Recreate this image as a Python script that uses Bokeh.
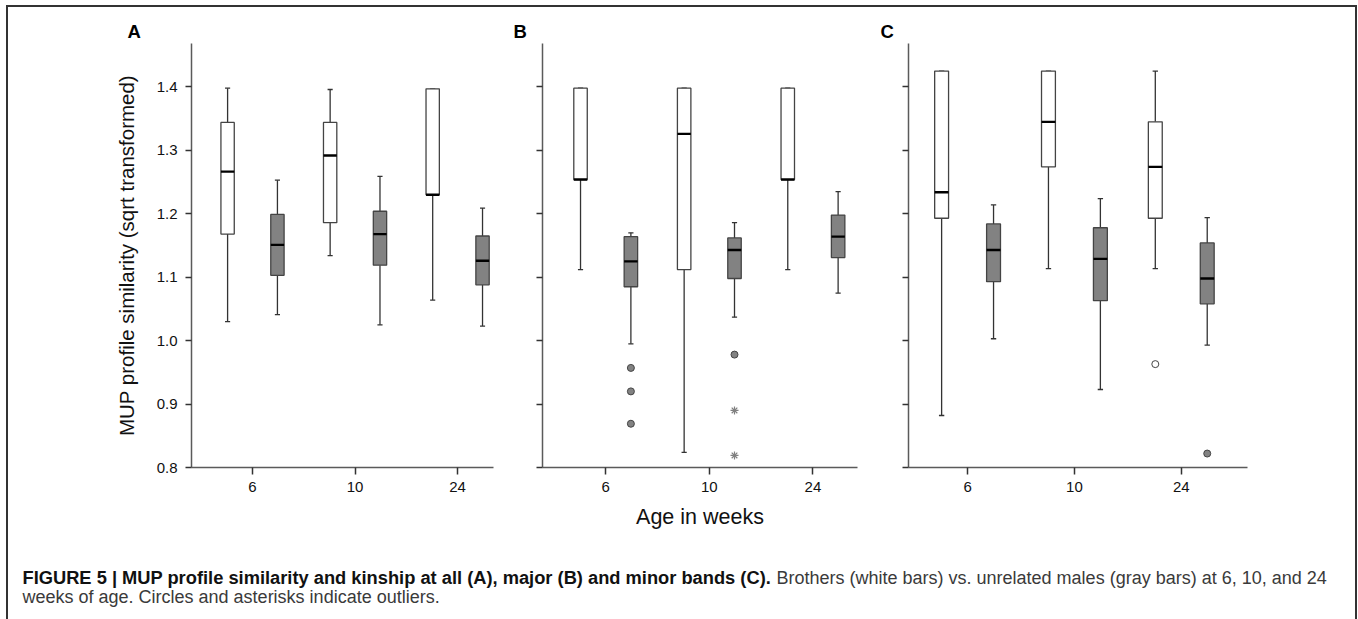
from bokeh.plotting import figure
from bokeh.models import Range1d, FixedTicker, ColumnDataSource
from bokeh.layouts import row, column
from bokeh.embed import file_html
from bokeh.resources import INLINE
from bokeh.core.properties import value

# ---------------- data ----------------
weeks = ["6", "10", "24"]
y_ticks = [0.8, 0.9, 1.0, 1.1, 1.2, 1.3, 1.4]
y_tick_labels = ["0.8", "0.9", "1.0", "1.1", "1.2", "1.3", "1.4"]

# Panel A - all bands
A_brothers_low = [1.030, 1.134, 1.064]
A_brothers_q1 = [1.168, 1.186, 1.230]
A_brothers_median = [1.2665, 1.292, 1.230]
A_brothers_q3 = [1.344, 1.344, 1.397]
A_brothers_high = [1.398, 1.396, 1.397]
A_unrelated_low = [1.041, 1.025, 1.023]
A_unrelated_q1 = [1.103, 1.119, 1.088]
A_unrelated_median = [1.151, 1.168, 1.126]
A_unrelated_q3 = [1.199, 1.204, 1.165]
A_unrelated_high = [1.253, 1.259, 1.209]

# Panel B - major bands
B_brothers_low = [1.112, 0.824, 1.112]
B_brothers_q1 = [1.254, 1.112, 1.254]
B_brothers_median = [1.254, 1.326, 1.254]
B_brothers_q3 = [1.398, 1.398, 1.398]
B_brothers_high = [1.398, 1.398, 1.398]
B_unrelated_low = [0.995, 1.037, 1.075]
B_unrelated_q1 = [1.085, 1.098, 1.131]
B_unrelated_median = [1.125, 1.143, 1.164]
B_unrelated_q3 = [1.164, 1.162, 1.198]
B_unrelated_high = [1.170, 1.186, 1.235]
B_unrelated_circle_week = ["6", "6", "6", "10"]
B_unrelated_circle_value = [0.957, 0.920, 0.869, 0.978]
B_unrelated_star_week = ["10", "10"]
B_unrelated_star_value = [0.890, 0.819]

# Panel C - minor bands
C_brothers_low = [0.882, 1.1135, 1.1135]
C_brothers_q1 = [1.193, 1.274, 1.193]
C_brothers_median = [1.234, 1.345, 1.274]
C_brothers_q3 = [1.425, 1.425, 1.345]
C_brothers_high = [1.425, 1.425, 1.425]
C_unrelated_low = [1.003, 0.923, 0.993]
C_unrelated_q1 = [1.093, 1.063, 1.058]
C_unrelated_median = [1.143, 1.129, 1.098]
C_unrelated_q3 = [1.184, 1.178, 1.154]
C_unrelated_high = [1.214, 1.224, 1.194]
C_brothers_circle_week = ["24"]
C_brothers_circle_value = [0.963]
C_unrelated_circle_week = ["24"]
C_unrelated_circle_value = [0.822]

# ---------------- styling ----------------
FONT = "Liberation Sans"
GRAY = "#828282"
EDGE = "#444444"
AXIS = "#5a5a5a"
OFFSET = 0.243
BOX_W = 0.13
CAP_W = 0.05
TOP = 36
FRAME_H = 424
BOTTOM = 78
ROW_H = TOP + FRAME_H + BOTTOM
CAP_H = 74


def draw_boxes(p, low, q1, med, q3, high, shift, fill):
    xs = [i + shift for i in range(len(weeks))]
    src = ColumnDataSource(dict(
        x=xs, low=low, q1=q1, med=med, q3=q3, high=high,
        cl=[x - CAP_W / 2 for x in xs], cr=[x + CAP_W / 2 for x in xs],
        bl=[x - BOX_W / 2 for x in xs], br=[x + BOX_W / 2 for x in xs],
    ))
    p.segment(x0="x", y0="q3", x1="x", y1="high", source=src, line_color="#333333", line_width=1.3)
    p.segment(x0="x", y0="q1", x1="x", y1="low", source=src, line_color="#333333", line_width=1.3)
    p.segment(x0="cl", y0="high", x1="cr", y1="high", source=src, line_color="#333333", line_width=1.3)
    p.segment(x0="cl", y0="low", x1="cr", y1="low", source=src, line_color="#333333", line_width=1.3)
    p.vbar(x="x", width=BOX_W, bottom="q1", top="q3", source=src,
           fill_color=fill, line_color=EDGE, line_width=1.3)
    p.segment(x0="bl", y0="med", x1="br", y1="med", source=src, line_color="black", line_width=2.4)


def draw_outliers(p, wk, vals, shift, kind, fill):
    xs = [weeks.index(w) + shift for w in wk]
    if kind == "star":
        p.scatter(x=xs, y=vals, marker="asterisk", size=8, line_color="#808080", line_width=1.2)
    else:
        p.scatter(x=xs, y=vals, marker="circle", size=7, fill_color=fill,
                  line_color=EDGE, line_width=1)


def panel(letter, x_start, x_end, width, mbl, mbr, title_offset, show_ylabels, xlabel):
    p = figure(width=width, height=ROW_H,
               x_range=Range1d(x_start, x_end), y_range=Range1d(0.8, 1.4685),
               toolbar_location=None, output_backend="svg",
               min_border_left=mbl, min_border_right=mbr,
               min_border_top=TOP, min_border_bottom=BOTTOM, title=letter)
    p.xgrid.visible = False
    p.ygrid.visible = False
    p.outline_line_color = None
    p.background_fill_color = "white"
    p.border_fill_color = "white"

    t = p.title
    t.text_font = FONT
    t.text_font_size = "18.5px"
    t.text_font_style = "bold"
    t.text_color = "black"
    t.align = "left"
    t.offset = title_offset
    t.standoff = 3

    xa = p.xaxis[0]
    xa.ticker = FixedTicker(ticks=list(range(len(weeks))))
    xa.major_label_overrides = {i: w for i, w in enumerate(weeks)}
    xa.major_tick_out = 7
    xa.major_tick_in = 0
    xa.minor_tick_out = 0
    xa.major_tick_line_color = "#333333"
    xa.major_tick_line_width = 1.5
    xa.axis_line_color = AXIS
    xa.axis_line_width = 1.5
    xa.major_label_text_font = FONT
    xa.major_label_text_font_size = "15px"
    xa.major_label_text_color = "#111111"
    xa.major_label_standoff = 7
    if xlabel:
        xa.axis_label = xlabel
        xa.axis_label_text_font = FONT
        xa.axis_label_text_font_size = "21.5px"
        xa.axis_label_text_font_style = "normal"
        xa.axis_label_text_color = "#111111"
        xa.axis_label_standoff = 10

    ya = p.yaxis[0]
    ya.ticker = FixedTicker(ticks=y_ticks)
    if show_ylabels:
        ya.major_label_overrides = dict(zip(y_ticks, y_tick_labels))
        ya.axis_label = "MUP profile similarity (sqrt transformed)"
        ya.axis_label_text_font = FONT
        ya.axis_label_text_font_size = "20.5px"
        ya.axis_label_text_font_style = "normal"
        ya.axis_label_text_color = "#111111"
        ya.axis_label_standoff = 16
    else:
        ya.major_label_overrides = {v: "" for v in y_ticks}
    ya.major_tick_out = 6
    ya.major_tick_in = 0
    ya.minor_tick_out = 0
    ya.major_tick_line_color = "#333333"
    ya.major_tick_line_width = 1.5
    ya.axis_line_color = AXIS
    ya.axis_line_width = 1.5
    ya.major_label_text_font = FONT
    ya.major_label_text_font_size = "15px"
    ya.major_label_text_color = "#111111"
    ya.major_label_standoff = 8
    return p


pA = panel("A", -0.595, 2.35, 497, 183, 12, -64, True, None)
draw_boxes(pA, A_brothers_low, A_brothers_q1, A_brothers_median, A_brothers_q3, A_brothers_high, -OFFSET, "white")
draw_boxes(pA, A_unrelated_low, A_unrelated_q1, A_unrelated_median, A_unrelated_q3, A_unrelated_high, OFFSET, GRAY)

pB = panel("B", -0.61, 2.43, 370, 37, 18, -29, False, "Age in weeks")
draw_boxes(pB, B_brothers_low, B_brothers_q1, B_brothers_median, B_brothers_q3, B_brothers_high, -OFFSET, "white")
draw_boxes(pB, B_unrelated_low, B_unrelated_q1, B_unrelated_median, B_unrelated_q3, B_unrelated_high, OFFSET, GRAY)
draw_outliers(pB, B_unrelated_circle_week, B_unrelated_circle_value, OFFSET, "circle", GRAY)
draw_outliers(pB, B_unrelated_star_week, B_unrelated_star_value, OFFSET, "star", None)

pC = panel("C", -0.553, 2.62, 480, 33, 108, -28, False, None)
draw_boxes(pC, C_brothers_low, C_brothers_q1, C_brothers_median, C_brothers_q3, C_brothers_high, -OFFSET, "white")
draw_boxes(pC, C_unrelated_low, C_unrelated_q1, C_unrelated_median, C_unrelated_q3, C_unrelated_high, OFFSET, GRAY)
draw_outliers(pC, C_brothers_circle_week, C_brothers_circle_value, -OFFSET, "circle", "white")
draw_outliers(pC, C_unrelated_circle_week, C_unrelated_circle_value, OFFSET, "circle", GRAY)

# ---------------- caption ----------------
TOTAL_W = 497 + 370 + 480
cap = figure(width=TOTAL_W, height=CAP_H, x_range=Range1d(0, TOTAL_W), y_range=Range1d(CAP_H, 0),
             toolbar_location=None, output_backend="svg", x_axis_type=None, y_axis_type=None,
             min_border=0, min_border_left=0, min_border_right=0, min_border_top=0, min_border_bottom=0)
cap.outline_line_color = None
cap.xgrid.visible = False
cap.ygrid.visible = False
cap_bold = "FIGURE 5 | MUP profile similarity and kinship at all (A), major (B) and minor bands (C)."
cap_rest1 = "Brothers (white bars) vs. unrelated males (gray bars) at 6, 10, and 24"
cap_rest2 = "weeks of age. Circles and asterisks indicate outliers."
cap.text(x=[14], y=[32], text=[cap_bold], text_font=value(FONT), text_font_style="bold",
         text_font_size="18.3px", text_baseline="middle", text_color="#111111")
cap.text(x=[768], y=[32], text=[cap_rest1], text_font=value(FONT),
         text_font_size="18px", text_baseline="middle", text_color="#3a3a3a")
cap.text(x=[14], y=[51], text=[cap_rest2], text_font=value(FONT),
         text_font_size="18px", text_baseline="middle", text_color="#3a3a3a")

layout = column(row(pA, pB, pC), cap, margin=(5, 0, 0, 6),
                styles={"border-top": "2px solid #333333",
                        "border-left": "2px solid #333333",
                        "border-right": "2px solid #333333"})

open("out.html", "w").write(file_html(layout, INLINE))
